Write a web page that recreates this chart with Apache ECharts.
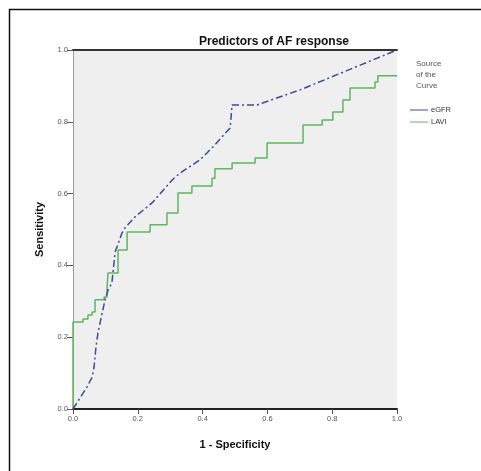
<!DOCTYPE html>
<html><head><meta charset="utf-8">
<script src="https://cdn.jsdelivr.net/npm/echarts@6/dist/echarts.min.js"></script>
<style>html,body{margin:0;padding:0;background:#fff}#c{width:481px;height:471px}</style>
</head><body><div id="c"></div>
<script>
const chartTitle = 'Predictors of AF response';
const xAxisName = '1 - Specificity';
const yAxisName = 'Sensitivity';
const legendTitle = ['Source', 'of the', 'Curve'];
const seriesNames = ['eGFR', 'LAVI'];
const tickValues = [0, 0.2, 0.4, 0.6, 0.8, 1.0];

// series 1 (blue, dashed): 1-specificity / sensitivity
const blueX = [0, 0.043, 0.059, 0.065, 0.071, 0.077, 0.090, 0.099, 0.108, 0.120, 0.130, 0.151, 0.160, 0.191, 0.244, 0.306, 0.330, 0.392, 0.432, 0.485, 0.491, 0.568, 0.701, 1.0];
const blueY = [0, 0.061, 0.089, 0.117, 0.173, 0.212, 0.267, 0.304, 0.331, 0.351, 0.437, 0.490, 0.504, 0.535, 0.574, 0.638, 0.657, 0.694, 0.730, 0.783, 0.847, 0.847, 0.889, 1.0];

// series 2 (green, steps)
const greenX = [0, 0, 0.031, 0.031, 0.046, 0.046, 0.059, 0.059, 0.068, 0.068, 0.096, 0.096, 0.105, 0.105, 0.108, 0.108, 0.139, 0.139, 0.167, 0.167, 0.238, 0.238, 0.290, 0.290, 0.324, 0.324, 0.367, 0.367, 0.429, 0.429, 0.438, 0.438, 0.491, 0.491, 0.562, 0.562, 0.599, 0.599, 0.710, 0.710, 0.769, 0.769, 0.802, 0.802, 0.833, 0.833, 0.855, 0.855, 0.932, 0.932, 0.941, 0.941, 1.0];
const greenY = [0, 0.242, 0.242, 0.251, 0.251, 0.262, 0.262, 0.270, 0.270, 0.304, 0.304, 0.312, 0.312, 0.337, 0.337, 0.379, 0.379, 0.443, 0.443, 0.493, 0.493, 0.513, 0.513, 0.546, 0.546, 0.602, 0.602, 0.621, 0.621, 0.643, 0.643, 0.669, 0.669, 0.685, 0.685, 0.699, 0.699, 0.741, 0.741, 0.791, 0.791, 0.805, 0.805, 0.827, 0.827, 0.861, 0.861, 0.894, 0.894, 0.911, 0.911, 0.928, 0.928];

const zip = (xs, ys) => xs.map((x, i) => [x, ys[i]]);
const fontFam = '"Liberation Sans", Arial, sans-serif';
const lbl = {fontSize: 7.5, color: '#555', fontFamily: fontFam, formatter: v => v.toFixed(1)};

const chart = echarts.init(document.getElementById('c'), null, {renderer: 'canvas'});
chart.setOption({
  animation: false,
  backgroundColor: '#fff',
  grid: {left: 73, right: 84, top: 50, bottom: 62, show: true, backgroundColor: '#efefef', borderWidth: 0},
  xAxis: [{
    type: 'value', min: 0, max: 1, interval: 0.2, position: 'bottom',
    axisLine: {show: true, onZero: false, lineStyle: {color: '#222', width: 2}},
    axisTick: {show: true, length: 5, lineStyle: {color: '#555'}},
    axisLabel: Object.assign({margin: 6}, lbl),
    splitLine: {show: false},
    name: xAxisName, nameLocation: 'middle', nameGap: 30,
    nameTextStyle: {fontSize: 11, fontWeight: 'bold', color: '#111', fontFamily: fontFam}
  }, {
    type: 'value', min: 0, max: 1, position: 'top',
    axisLine: {show: true, onZero: false, lineStyle: {color: '#333', width: 2}},
    axisTick: {show: false}, axisLabel: {show: false}, splitLine: {show: false}
  }],
  yAxis: {
    type: 'value', min: 0, max: 1, interval: 0.2,
    axisLine: {show: true, onZero: false, lineStyle: {color: '#9a9a9a', width: 1}},
    axisTick: {show: true, length: 6, lineStyle: {color: '#555'}},
    axisLabel: Object.assign({margin: 5}, lbl),
    splitLine: {show: false},
    name: yAxisName, nameLocation: 'middle', nameGap: 28, nameRotate: 90,
    nameTextStyle: {fontSize: 11, fontWeight: 'bold', color: '#111', fontFamily: fontFam}
  },
  legend: {
    orient: 'vertical', left: 405, top: 101, itemWidth: 18, itemHeight: 8, itemGap: 4,
    icon: 'path://M0,4L18,4L18,5L0,5Z',
    textStyle: {fontSize: 7.5, color: '#333', fontFamily: fontFam, padding: [0,0,0,-2]},
    data: seriesNames
  },
  graphic: [
    {type: 'rect', shape: {x: 9.5, y: 9.5, width: 600, height: 600}, style: {fill: 'none', stroke: '#111', lineWidth: 1.5}, silent: true},
    {type: 'text', x: 274, y: 42, style: {text: chartTitle, fontSize: 12, fontWeight: 'bold', fill: '#111', fontFamily: fontFam, textAlign: 'center', textVerticalAlign: 'middle'}},
    {type: 'text', x: 416, y: 58, style: {text: legendTitle.join('\n'), fontSize: 8, lineHeight: 11, fill: '#555', fontFamily: fontFam, textAlign: 'left'}}
  ],
  series: [{
    name: seriesNames[0], type: 'line', xAxisIndex: 0, data: zip(blueX, blueY), showSymbol: false,
    lineStyle: {color: '#3c4a9c', width: 1.5, type: [7, 3, 2, 3]}, itemStyle: {color: '#3c4a9c'}, z: 3
  }, {
    name: seriesNames[1], type: 'line', xAxisIndex: 0, data: zip(greenX, greenY), showSymbol: false,
    lineStyle: {color: '#5cb85c', width: 1.5}, itemStyle: {color: '#5cb85c'}, z: 2
  }]
});
</script></body></html>
